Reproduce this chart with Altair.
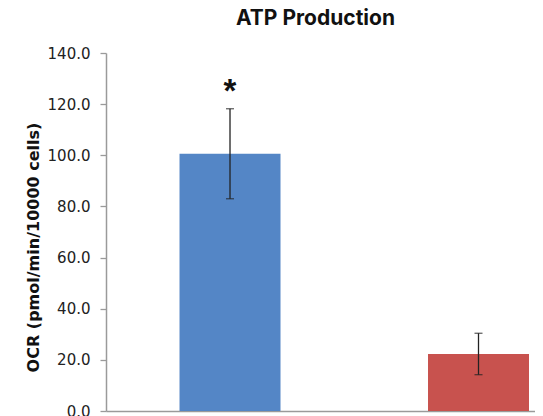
import altair as alt
import pandas as pd

categories = ["Group A", "Group B"]
means = [100.6, 22.3]
errors = [17.6, 8.1]
sig_marks = ["*", ""]
bar_colors = ["#5486C6", "#C8524E"]
y_ticks = [0, 20, 40, 60, 80, 100, 120, 140]

df = pd.DataFrame({"group": categories, "mean": means, "err": errors, "sig": sig_marks})
df["lo"] = df["mean"] - df["err"]
df["hi"] = df["mean"] + df["err"]

x_enc = alt.X(
    "group:N",
    sort=categories,
    scale=alt.Scale(paddingInner=0.5936, paddingOuter=0.16, align=0.9245),
    axis=alt.Axis(labels=False, ticks=False, title=None, domainColor="#9a9a9a", domainWidth=1.5),
)

y_axis = alt.Axis(
    values=y_ticks,
    format=".1f",
    tickSize=6,
    tickColor="#9a9a9a",
    tickWidth=1.3,
    domainColor="#9a9a9a",
    domainWidth=1.5,
    labelPadding=10,
    labelFont="DejaVu Sans",
    labelFontSize=15,
    labelColor="#222222",
    grid=False,
    title="OCR (pmol/min/10000 cells)",
    titleFont="DejaVu Sans",
    titleFontSize=16,
    titleFontWeight="bold",
    titleColor="#111111",
    titleAngle=270,
    titleAlign="center",
    titleBaseline="middle",
    titleX=-73,
    titleY=194,
)

base = alt.Chart(df)

bars = base.mark_bar().encode(
    x=x_enc,
    y=alt.Y("mean:Q", scale=alt.Scale(domain=[0, 140]), axis=y_axis),
    color=alt.Color("group:N", scale=alt.Scale(domain=categories, range=bar_colors), legend=None),
)

err_line = base.mark_rule(color="#222222", strokeWidth=1.3).encode(
    x=x_enc, y="lo:Q", y2="hi:Q"
)
cap_hi = base.mark_tick(color="#222222", thickness=1.3, size=8).encode(x=x_enc, y="hi:Q")
cap_lo = base.mark_tick(color="#222222", thickness=1.3, size=8).encode(x=x_enc, y="lo:Q")

star = base.mark_text(
    font="Liberation Sans", fontSize=33, fontWeight="bold", baseline="alphabetic", dy=-7, color="#111111"
).encode(x=x_enc, y="hi:Q", text="sig:N")

chart = (
    alt.layer(bars, err_line, cap_hi, cap_lo, star)
    .properties(
        width=429,
        height=358,
        title=alt.TitleParams(
            "ATP Production",
            font="Inter",
            fontSize=21,
            fontWeight="bold",
            color="#111111",
            anchor="middle",
            dx=-5,
            offset=0,
            baseline="alphabetic",
        ),
        autosize=alt.AutoSizeParams(type="none"),
        padding={"left": 98, "top": 45, "right": 0, "bottom": 12},
    )
    .configure_view(stroke=None)
)

chart.save("out.html", embed_options={"renderer": "svg", "actions": False})
